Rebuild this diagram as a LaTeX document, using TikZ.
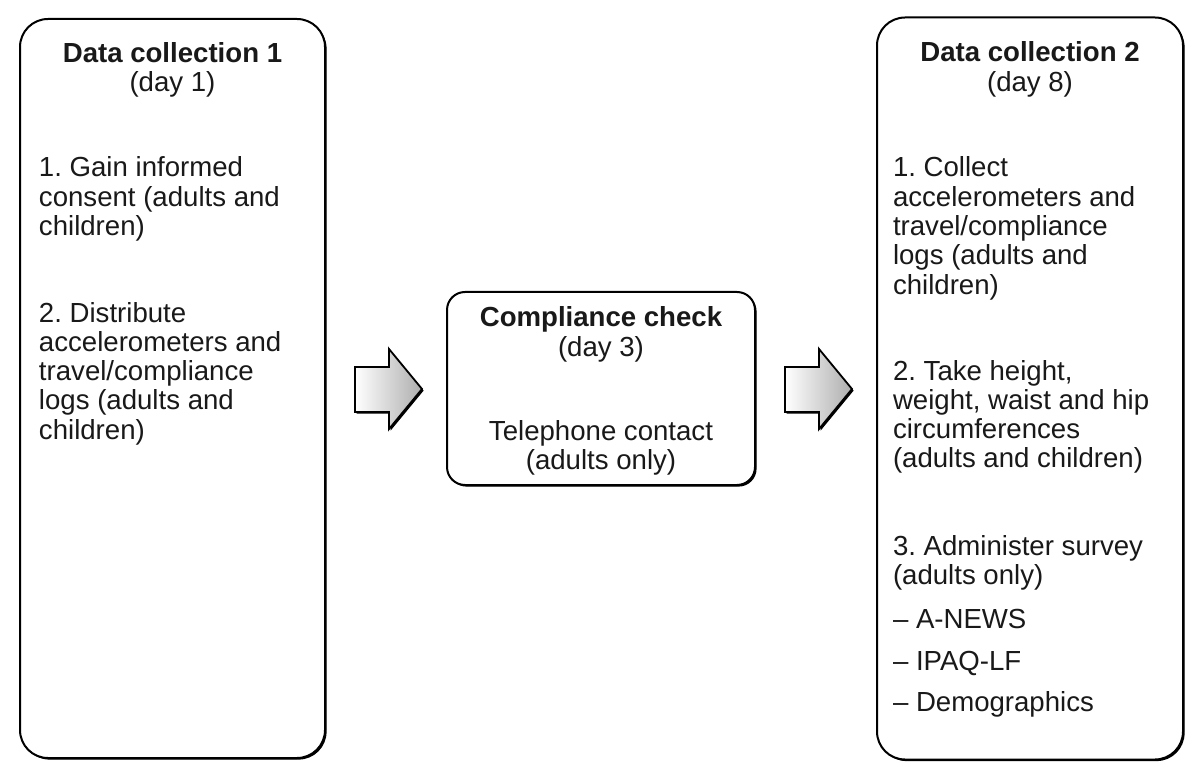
\documentclass[tikz,border=0pt]{standalone}
\usepackage{fontspec}
\setmainfont{Liberation Sans}
\frenchspacing
\usetikzlibrary{shadows}
\begin{document}
\begin{tikzpicture}[x=0.5pt,y=-0.5pt,
  every node/.style={inner sep=0pt, outer sep=0pt},
  txt/.style={font=\fontsize{13.8}{14.65}\selectfont\frenchspacing, align=left, anchor=base west, text=black!90},
  ctxt/.style={font=\fontsize{13.8}{14.65}\selectfont\frenchspacing, align=center, anchor=base, text=black!90},
  btxt/.style={font=\fontsize{13.8}{14.65}\selectfont\bfseries, anchor=base, text=black!90},
  box/.style={draw=black, line width=1pt, fill=white,
    drop shadow={shadow xshift=0.8pt, shadow yshift=-0.8pt, fill=black, opacity=1}},
  blockarrow/.style={draw=black, line width=0.9pt, left color=white, right color=black!32,
    drop shadow={shadow xshift=0.8pt, shadow yshift=-0.8pt, fill=black, opacity=1}}
]
\useasboundingbox (0,0) rectangle (1200,775);

% boxes
\node[box, rounded corners=14pt, minimum width=152.5pt, minimum height=369.5pt] (dc1) at (172.5,388.5) {};
\node[box, rounded corners=9pt, minimum width=154pt, minimum height=96.5pt] (cc) at (601,388.5) {};
\node[box, rounded corners=14pt, minimum width=153pt, minimum height=371pt] (dc2) at (1030,388.5) {};

% block arrows
\path[blockarrow] (355,367) -- (389,367) -- (389,349) -- (422,389) -- (389,429) -- (389,412) -- (355,412) -- cycle;
\path[blockarrow] (785,367) -- (819,367) -- (819,349) -- (852,389) -- (819,429) -- (819,412) -- (785,412) -- cycle;

% left box text (base anchor = baseline of last line)
\node[btxt] (t1) at (172.5,63) {Data collection 1};
\node[ctxt] (d1) at (172.5,92) {(day 1)};
\node[txt] (a1) at (39,235.6) {1. Gain informed\\consent (adults and\\children)};
\node[txt] (a2) at (39,439.2) {2. Distribute\\accelerometers and\\travel/compliance\\logs (adults and\\children)};

% middle box text
\node[btxt] (t2) at (601,327) {Compliance check};
\node[ctxt] (d2) at (601,357) {(day 3)};
\node[ctxt] (b1) at (601,469.3) {Telephone contact\\(adults only)};

% right box text
\node[btxt] (t3) at (1030,62) {Data collection 2};
\node[ctxt] (d3) at (1030,92) {(day 8)};
\node[txt] (c1) at (893,294.2) {1. Collect\\accelerometers and\\travel/compliance\\logs (adults and\\children)};
\node[txt] (c2) at (893,467.9) {2. Take height,\\weight, waist and hip\\circumferences\\(adults and children)};
\node[txt] (c3) at (893,584.3) {3. Administer survey\\(adults only)};
\node[txt] (c4) at (893,628) {– A-NEWS};
\node[txt] (c5) at (893,670) {– IPAQ-LF};
\node[txt] (c6) at (893,711) {– Demographics};
\end{tikzpicture}
\end{document}
